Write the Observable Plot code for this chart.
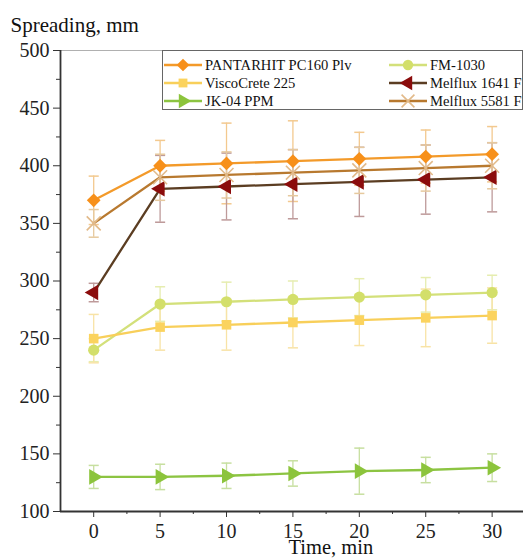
<!DOCTYPE html>
<html><head><meta charset="utf-8">
<script src="https://cdn.jsdelivr.net/npm/d3@7"></script>
<script src="https://cdn.jsdelivr.net/npm/@observablehq/plot@0.6"></script>
<style>
body{margin:0;background:#fff;}
#wrap{position:relative;width:523px;height:558px;overflow:hidden;font-family:"Liberation Serif","DejaVu Serif",serif;}
#legend{position:absolute;left:162px;top:50px;width:361px;height:60px;border:1px solid #666;background:#fff;box-sizing:border-box;}
.item{position:absolute;height:18px;display:flex;align-items:center;font-size:14.6px;color:#111;white-space:nowrap;}
.item svg{margin-right:2px;}
</style></head><body><div id="wrap"></div>
<script>
const times = [0, 5, 10, 15, 20, 25, 30];
const minorXTicks = [2.5, 7.5, 12.5, 17.5, 22.5, 27.5];
const yTicks = [100, 150, 200, 250, 300, 350, 400, 450, 500];
const minorYTicks = [125, 175, 225, 275, 325, 375, 425, 475];

const seriesNames = ["PANTARHIT PC160 Plv", "FM-1030", "ViscoCrete 225", "Melflux 1641 F", "JK-04 PPM", "Melflux 5581 F"];

const pantarhit = [370, 400, 402, 404, 406, 408, 410];
const pantarhitErr = [21, 22, 35, 35, 23, 23, 24];
const fm1030 = [240, 280, 282, 284, 286, 288, 290];
const fm1030Err = [10, 15, 17, 16, 16, 15, 15];
const viscocrete = [250, 260, 262, 264, 266, 268, 270];
const viscocreteErr = [21, 20, 22, 22, 22, 25, 24];
const melflux1641 = [290, 380, 382, 384, 386, 388, 390];
const melflux1641Err = [8, 29, 29, 30, 30, 30, 30];
const jk04 = [130, 130, 131, 133, 135, 136, 138];
const jk04Err = [10, 11, 11, 11, 20, 11, 12];
const melflux5581 = [350, 390, 392, 394, 396, 398, 400];
const melflux5581Err = [12, 20, 20, 20, 20, 20, 20];

const styles = [
  {vals: pantarhit, err: pantarhitErr, line: "#F39A2A", mark: "#F7901A", errc: "#F3C98F", symbol: "diamond2", r: 6.2, rotate: 0},
  {vals: fm1030, err: fm1030Err, line: "#D3E07A", mark: "#D3DF6A", errc: "#E6EDB0", symbol: "circle", r: 5.6, rotate: 0},
  {vals: viscocrete, err: viscocreteErr, line: "#F8CF5A", mark: "#FBD35E", errc: "#F8E3A6", symbol: "square", r: 5.4, rotate: 0},
  {vals: melflux1641, err: melflux1641Err, line: "#5B3D22", mark: "#8B0C0C", errc: "#BE9A9A", symbol: "triangle", r: 5.8, rotate: -90},
  {vals: jk04, err: jk04Err, line: "#8CC442", mark: "#8CC43C", errc: "#C7DFA0", symbol: "triangle", r: 5.8, rotate: 90},
  {vals: melflux5581, err: melflux5581Err, line: "#B8792F", mark: "#E2BA8A", errc: "#E6C99E", symbol: "times", r: 6.4, rotate: 0}
];

const rows = [];
styles.forEach((s, i) => times.forEach((t, j) => rows.push({name: seriesNames[i], i, t, v: s.vals[j], e: s.err[j]})));

const marks = [];
// error bars
styles.forEach((s, i) => {
  const d = rows.filter(r => r.i === i);
  marks.push(Plot.ruleX(d, {x: "t", y1: r => r.v - r.e, y2: r => r.v + r.e, stroke: s.errc, strokeWidth: 1.3}));
  marks.push(Plot.link(d, {x1: r => r.t - 0.38, x2: r => r.t + 0.38, y1: r => r.v + r.e, y2: r => r.v + r.e, stroke: s.errc, strokeWidth: 1.5}));
  marks.push(Plot.link(d, {x1: r => r.t - 0.38, x2: r => r.t + 0.38, y1: r => r.v - r.e, y2: r => r.v - r.e, stroke: s.errc, strokeWidth: 1.5}));
});
// lines
styles.forEach((s, i) => {
  marks.push(Plot.line(rows.filter(r => r.i === i), {x: "t", y: "v", stroke: s.line, strokeWidth: 2.3}));
});
// markers
styles.forEach((s, i) => {
  const opts = {x: "t", y: "v", symbol: s.symbol, r: s.r, rotate: s.rotate};
  if (s.symbol === "times") Object.assign(opts, {stroke: s.mark, strokeWidth: 1.6, fill: "none"});
  else Object.assign(opts, {fill: s.mark, stroke: "none"});
  marks.push(Plot.dot(rows.filter(r => r.i === i), opts));
});

// the original figure is cropped on the right: the frame runs past the window edge (clipped by #wrap)
const chart = Plot.plot({
  width: 532,
  height: 558,
  marginLeft: 60,
  marginRight: 0,
  marginTop: 50,
  marginBottom: 47,
  style: {fontFamily: "'Liberation Serif', serif", background: "#fff", color: "#222", maxWidth: "none"},
  x: {domain: [-2.5, 33.04], axis: null},
  y: {domain: [100, 500], axis: null},
  marks: [
    Plot.ruleY([500], {stroke: "#b0b0b0", strokeWidth: 1.2}),
    ...marks,
    Plot.axisY({anchor: "left", ticks: yTicks, tickSize: 7, tickPadding: 4, fontSize: 20, label: null, stroke: "#333", tickFormat: d => String(d)}),
    Plot.axisY({anchor: "left", ticks: minorYTicks, tickSize: 4, tickFormat: () => "", label: null, stroke: "#333"}),
    Plot.axisX({anchor: "bottom", ticks: times, tickSize: 6, tickPadding: 6, fontSize: 20, label: null, stroke: "#333", tickFormat: d => String(d)}),
    Plot.axisX({anchor: "bottom", ticks: minorXTicks, tickSize: 3, tickFormat: () => "", label: null, stroke: "#333"}),
    Plot.ruleX([-2.5], {stroke: "#333", strokeWidth: 1.8}),
    Plot.ruleY([100], {stroke: "#333", strokeWidth: 2}),
    Plot.text(["Spreading, mm"], {frameAnchor: "top-left", dx: -50, dy: -33, textAnchor: "start", fontSize: 21, fill: "#111"}),
    Plot.text(["Time, min"], {frameAnchor: "bottom-left", dx: 228, dy: 42, fontSize: 20.5, fill: "#111"})
  ]
});

const wrap = document.getElementById("wrap");
wrap.appendChild(chart);

// legend
const legend = document.createElement("div");
legend.id = "legend";
wrap.appendChild(legend);
const symMap = {diamond2: d3.symbolDiamond2, circle: d3.symbolCircle, square: d3.symbolSquare, triangle: d3.symbolTriangle, times: d3.symbolTimes};
const positions = [[0, 0], [225, 0], [0, 1], [225, 1], [0, 2], [225, 2]];
styles.forEach((s, i) => {
  const [lx, row] = positions[i];
  const item = document.createElement("div");
  item.className = "item";
  item.style.left = lx + "px";
  item.style.top = (5 + row * 18) + "px";
  const size = Math.PI * s.r * s.r * 0.85;
  const path = d3.symbol(symMap[s.symbol], size)();
  const isStroke = s.symbol === "times";
  item.innerHTML = `<svg width="40" height="18"><line x1="1" x2="39" y1="9" y2="9" stroke="${s.line}" stroke-width="2.3"/>` +
    `<path d="${path}" transform="translate(20,9) rotate(${s.rotate})" fill="${isStroke ? 'none' : s.mark}" stroke="${isStroke ? s.mark : 'none'}" stroke-width="1.6"/></svg>` +
    `<span>${seriesNames[i]}</span>`;
  legend.appendChild(item);
});
</script>
</body></html>
